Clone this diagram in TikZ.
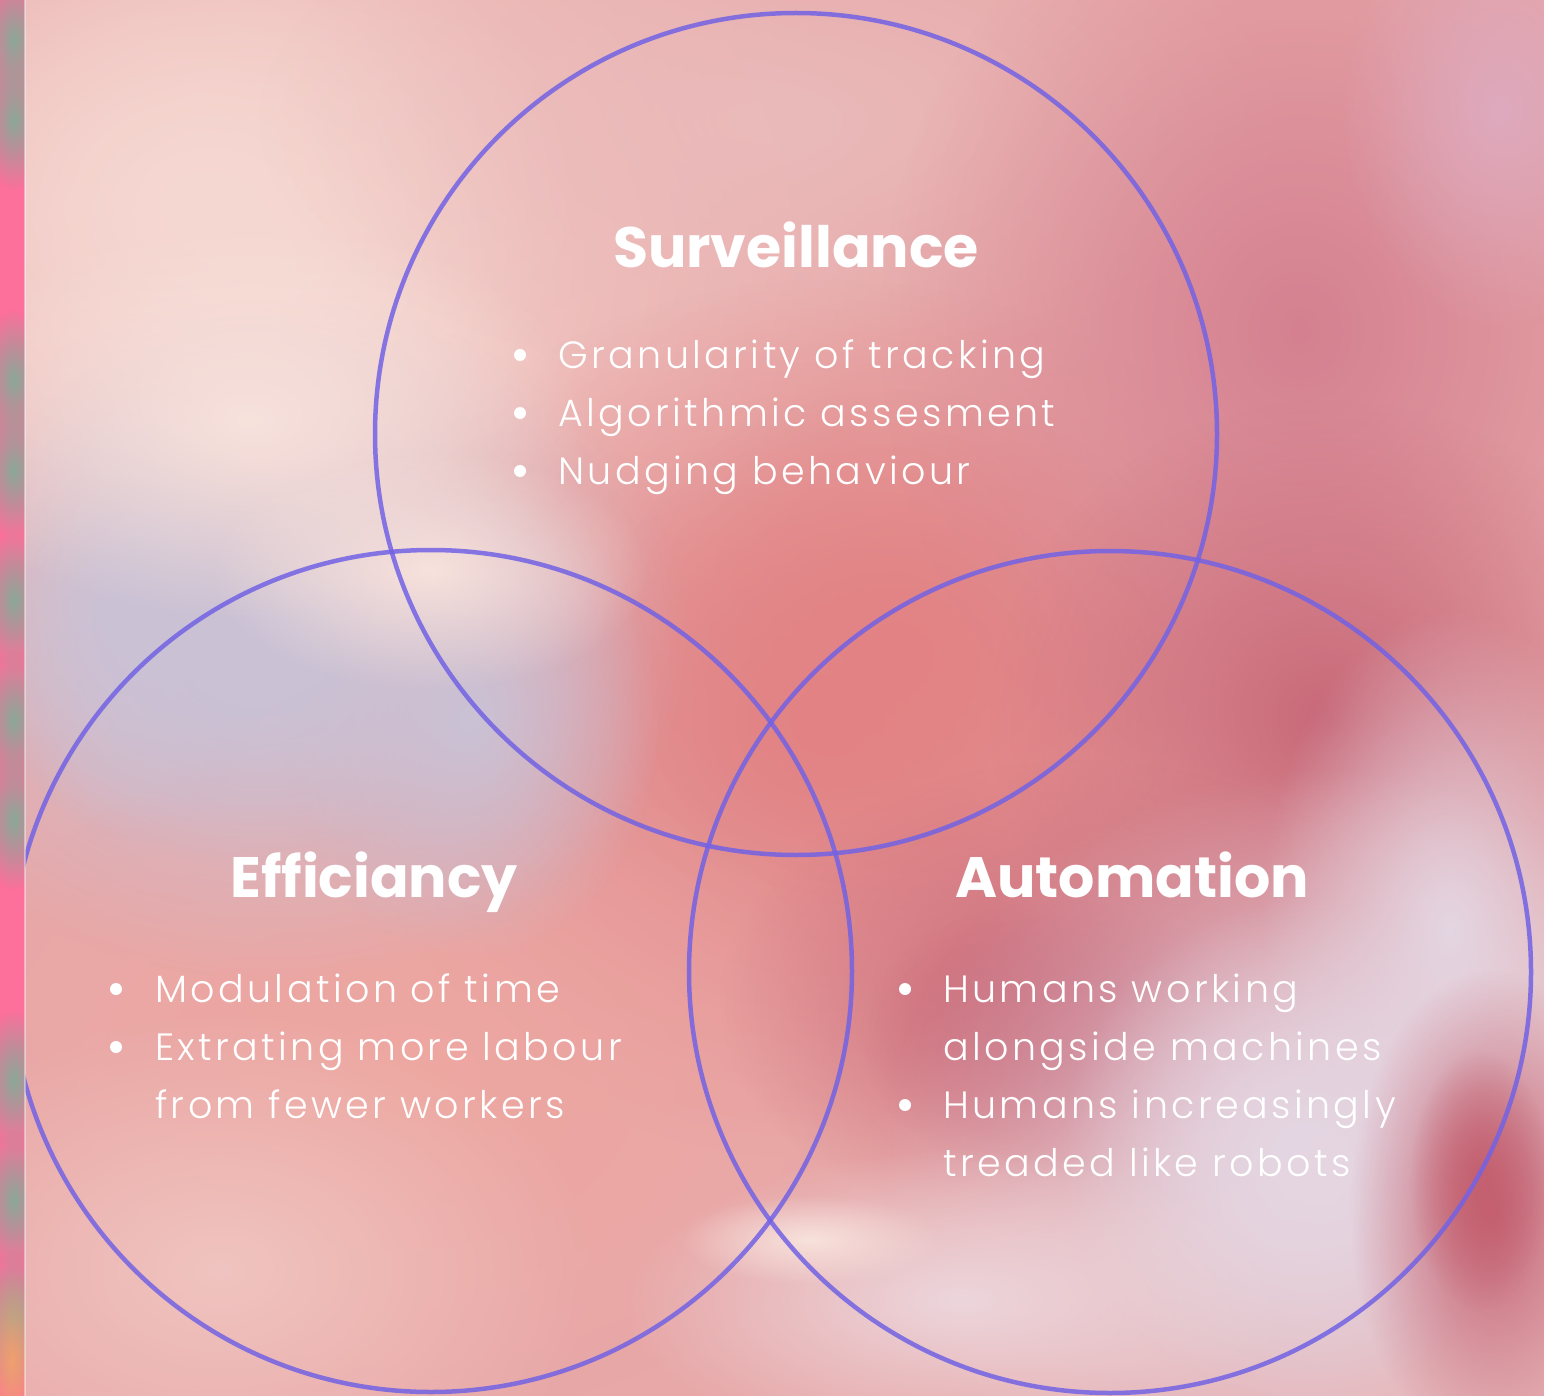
\documentclass[tikz,border=0pt]{standalone}
\usepackage{fontspec}
\IfFontExistsTF{Poppins Light}{\newfontfamily\listfont{Poppins Light}[LetterSpace=9]}{\newfontfamily\listfont{Poppins}[LetterSpace=9]}
\newfontfamily\headfont{Poppins}
\usetikzlibrary{fadings}
\tikzfading[name=softblob, inner color=transparent!0, outer color=transparent!100]
\definecolor{skybase}{RGB}{232,168,168}
\definecolor{palepink}{RGB}{246,216,210}
\definecolor{lavgray}{RGB}{202,194,214}
\definecolor{salmon}{RGB}{226,130,132}
\definecolor{rose}{RGB}{200,104,120}
\definecolor{cloudlav}{RGB}{228,214,226}
\definecolor{ringblue}{RGB}{114,98,228}
\definecolor{stripink}{RGB}{252,112,155}
\definecolor{stripgreen}{RGB}{138,168,152}
\tikzset{
  blob/.style={path fading=softblob},
  ring/.style={circle, draw=ringblue, draw opacity=0.85, line width=4.5pt, inner sep=0pt, minimum size=842pt},
  headline/.style={anchor=base, text=white, font=\headfont\bfseries\fontsize{57}{60}\selectfont},
  listline/.style={anchor=base west, text=white, inner sep=0pt, font=\listfont\fontsize{38}{58}\selectfont},
}
\begin{document}
\begin{tikzpicture}[x=1pt, y=-1pt]
\useasboundingbox (0,0) rectangle (1544,1396);
%%%%% Sky %%%%%
\fill[skybase] (0,0) rectangle (1544,1396);
\fill[palepink, blob] (260,260) ellipse (620pt and 520pt);
\fill[palepink, blob] (200,200) ellipse (380pt and 300pt);
\fill[color={rgb,255:red,234;green,186;blue,186}, blob] (780,120) ellipse (520pt and 260pt);
\fill[salmon, blob] (830,720) ellipse (520pt and 440pt);
\fill[salmon, blob] (900,650) ellipse (300pt and 260pt);
\fill[color={rgb,255:red,238;green,166;blue,160}, blob] (400,1080) ellipse (480pt and 340pt);
\fill[color={rgb,255:red,212;green,128;blue,144}, blob] (1300,330) ellipse (420pt and 480pt);
\fill[color={rgb,255:red,222;green,170;blue,190}, blob] (1500,110) ellipse (160pt and 220pt);
\fill[rose, blob] (1330,720) ellipse (340pt and 320pt);
\fill[rose, blob] (1080,1000) ellipse (360pt and 240pt);
\fill[rose, blob] (1060,1040) ellipse (200pt and 140pt);
\fill[cloudlav, blob] (1320,1170) ellipse (440pt and 400pt);
\fill[cloudlav, blob] (1300,1150) ellipse (240pt and 250pt);
\fill[cloudlav, blob] (1450,930) ellipse (190pt and 320pt);
\fill[color={rgb,255:red,196;green,96;blue,112}, blob] (1490,1210) ellipse (140pt and 240pt);
\fill[color={rgb,255:red,196;green,96;blue,112}, blob] (1480,1180) ellipse (70pt and 130pt);
\fill[color={rgb,255:red,236;green,214;blue,220}, blob] (960,1300) ellipse (340pt and 150pt);
\fill[color={rgb,255:red,240;green,196;blue,192}, blob] (220,1270) ellipse (380pt and 260pt);
\fill[lavgray, blob] (270,640) ellipse (420pt and 340pt);
\fill[lavgray, blob] (240,660) ellipse (260pt and 200pt);
\fill[lavgray, blob] (130,600) ellipse (150pt and 240pt);
\fill[lavgray, blob] (470,720) ellipse (190pt and 240pt);
\fill[color={rgb,255:red,248;green,226;blue,220}, blob] (250,420) ellipse (340pt and 200pt);
\fill[color={rgb,255:red,248;green,226;blue,220}, blob] (430,570) ellipse (220pt and 120pt);
\fill[color={rgb,255:red,248;green,226;blue,220}, blob] (810,1240) ellipse (130pt and 45pt);
%%%%% Rings %%%%%
\node[ring] (surv) at (796,434) {};
\node[ring] (effi) at (431,971) {};
\node[ring] (auto) at (1110,972) {};
%%%%% Strip %%%%%
\begin{scope}
\clip (0,0) rectangle (25,1396);
\fill[stripink] (0,0) rectangle (25,1396);
\foreach \yy in {40,120,380,470,600,720,820,1080,1200,1320}{
\fill[stripgreen, blob] (14,\yy) ellipse (34pt and 70pt);
}
\fill[color={rgb,255:red,240;green,160;blue,110}, blob] (12,1360) ellipse (30pt and 90pt);
\end{scope}
\draw[white, opacity=0.4, line width=1.5pt] (25,0) -- (25,1396);
%%%%% Titles %%%%%
\node[headline] (survtitle) at (796,268) {Surveillance};
\node[headline] (effititle) at (374,897) {Efficiancy};
\node[headline] (autotitle) at (1132,897) {Automation};
%%%%% Lists %%%%%
\foreach \t [count=\i] in {Granularity of tracking, Algorithmic assesment, Nudging behaviour}{
\node[listline] (surv\i) at (558,368+58*\i-58) {\t};
\fill[white] (520,355+58*\i-58) circle (6pt);
}
\foreach \t [count=\i] in {Modulation of time, Extrating more labour, from fewer workers}{
\node[listline] (effi\i) at (155,1002+58*\i-58) {\t};
}
\foreach \i in {1,2}{
\fill[white] (116,989+58*\i-58) circle (6pt);
}
\foreach \t [count=\i] in {Humans working, alongside machines, Humans increasingly, treaded like robots}{
\node[listline] (auto\i) at (943,1002+58*\i-58) {\t};
}
\foreach \i in {1,3}{
\fill[white] (905,989+58*\i-58) circle (6pt);
}
\end{tikzpicture}
\end{document}
